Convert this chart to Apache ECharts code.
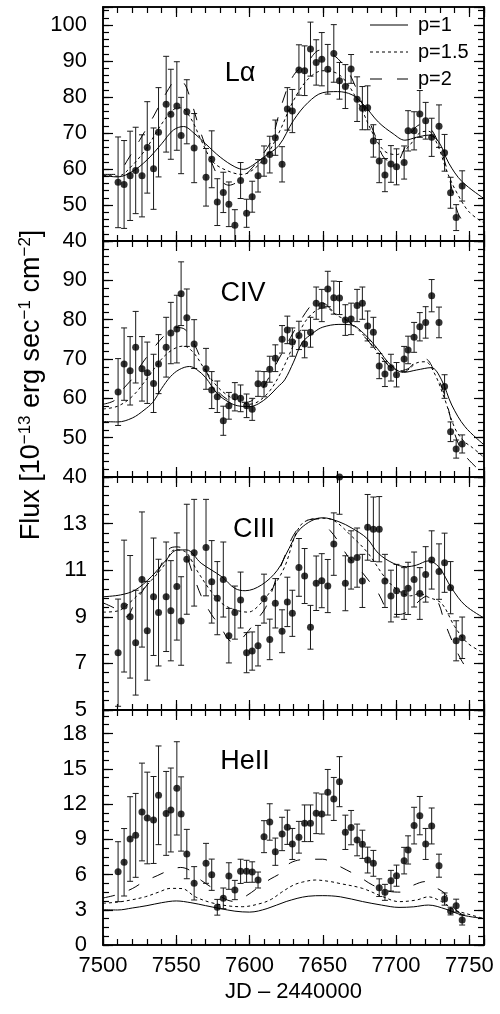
<!DOCTYPE html>
<html><head><meta charset="utf-8">
<script src="https://cdn.jsdelivr.net/npm/echarts@6/dist/echarts.min.js"></script>
<style>html,body{margin:0;padding:0;background:#fff}#c{width:500px;height:1014px}</style>
</head><body><div id="c"></div>
<script>
// ---------- data ----------
const jd = [7510.3,7514.4,7518.5,7522.3,7526.6,7530.2,7534.5,7537.9,7543.1,7546.3,7550.4,7553.3,7557.2,7562.2,7570.3,7574.2,7578.0,7582.1,7585.9,7590.0,7593.9,7598.0,7601.8,7605.8,7609.9,7613.8,7617.6,7622.2,7625.8,
7629.2,7633.7,7637.6,7641.6,7645.5,7649.3,7653.4,7657.5,7661.4,7665.4,7669.3,7673.4,7677.0,7680.6,7684.5,7688.5,7692.4,7696.5,7700.3,7705.5,7708.2,7712.3,7716.2,7720.2,7724.3,7729.3,7733.1,7737.2,7741.0,7745.1];

const lyaFlux = [56.3,55.7,58.1,59.6,58.1,66.0,60.1,70.2,78.0,75.2,77.5,69.3,75.9,65.8,57.7,62.7,50.8,53.5,50.2,44.4,56.8,47.7,52.3,58.1,62.2,64.0,68.7,61.3,76.7,
76.1,87.5,87.3,93.3,89.6,90.5,87.7,92.1,84.5,82.9,87.8,79.4,76.9,77.0,67.8,62.2,58.3,61.4,60.6,61.8,70.6,70.6,75.3,73.4,68.8,71.9,64.5,53.4,46.5,55.3];
const lyaErr = [12.6,12.2,12.4,12.0,11.4,12.7,11.3,12.4,13.3,12.5,12.3,10.6,8.9,9.6,8.0,7.9,6.5,5.6,6.2,4.3,5.0,3.9,4.3,4.5,4.2,5.1,4.9,4.9,5.9,
6.0,7.0,6.9,7.5,6.3,7.4,6.9,8.0,5.1,6.1,4.0,6.2,6.0,6.1,4.5,6.0,4.6,5.1,5.0,4.6,5.6,5.3,6.5,5.1,5.3,5.9,5.1,4.3,3.6,4.2];

const civFlux = [61.6,68.7,67.0,73.0,67.5,66.5,63.8,68.7,73.0,76.6,77.6,86.6,80.5,73.8,67.5,62.1,60.4,54.3,58.1,60.4,60.0,58.1,57.2,63.7,63.6,67.4,70.2,75.0,77.4,
74.3,76.0,73.8,76.8,84.2,83.6,87.8,85.6,85.5,79.9,80.2,83.6,84.2,78.4,76.8,68.2,66.2,67.8,66.0,70.0,72.3,75.5,78.2,79.3,86.1,79.3,63.0,51.5,47.1,48.4];
const civErr = [8.5,9.2,8.7,9.1,8.2,7.8,7.4,7.5,7.6,7.8,8.6,8.1,7.3,6.2,5.2,4.7,4.0,3.7,3.4,3.6,3.4,3.0,2.8,3.2,3.2,3.3,3.4,3.5,3.5,
3.6,3.6,3.5,3.8,4.1,4.1,4.5,4.2,4.2,3.9,4.0,4.1,4.1,3.8,3.8,3.2,3.2,3.4,3.1,3.2,3.5,3.8,3.6,4.0,4.1,3.9,3.0,2.5,2.3,2.3];

const ciiiFlux = [7.46,9.46,9.0,7.89,10.6,8.4,9.86,9.18,9.86,9.26,10.3,8.82,11.47,11.75,11.97,10.5,9.8,10.6,8.19,9.18,9.72,7.46,7.53,7.76,9.78,8.03,9.58,8.38,9.64,
9.15,11.12,10.75,8.55,10.44,10.55,10.32,12.12,15.0,10.44,11.44,11.54,10.54,12.84,12.76,12.76,10.54,9.89,10.12,10.0,10.22,10.6,10.0,10.82,11.44,10.94,11.32,10.25,7.97,8.1];
const ciiiErr = [2.3,2.83,2.63,2.25,2.9,2.12,2.52,2.29,2.35,2.15,2.3,1.9,2.36,2.29,2.07,1.77,1.57,1.61,1.17,1.14,1.2,0.86,0.82,0.87,1.05,0.87,1.06,0.92,1.06,
0.99,1.24,1.18,0.94,1.17,1.16,1.14,1.34,1.6,1.18,1.25,1.27,1.14,1.41,1.38,1.4,1.14,1.11,1.13,1.11,1.12,1.18,1.11,1.19,1.25,1.19,1.27,1.12,0.86,0.89];

const heiiFlux = [6.24,7.04,9.02,9.33,11.32,10.81,10.64,12.74,11.2,11.49,13.33,11.15,7.74,5.25,6.95,5.98,3.21,3.97,5.87,4.68,6.27,6.27,6.21,5.53,9.22,10.47,7.94,9.45,10.02,
8.6,9.17,10.36,10.36,11.21,11.15,13.0,12.43,13.9,9.59,9.99,8.94,8.57,7.23,6.95,4.88,4.48,5.47,5.9,7.18,8.09,10.16,11.01,8.6,10.13,6.75,3.91,2.89,3.35,2.13];
const heiiErr = [2.55,2.87,3.6,3.57,4.16,3.9,3.7,4.2,3.57,3.57,3.97,3.16,2.1,1.42,1.7,1.33,0.67,0.88,1.13,0.82,1.03,0.94,0.87,0.68,1.36,1.55,1.16,1.42,1.46,
1.32,1.35,1.56,1.56,1.73,1.7,1.94,1.83,2.13,1.46,1.46,1.35,1.2,1.1,1.1,0.75,0.68,0.88,0.9,1.13,1.2,1.56,1.63,1.32,1.53,0.98,0.52,0.33,0.55,0.43];

// model curves [JD, flux]
const lyaP1 = [[7500,58.2],[7510,57.8],[7520,59.3],[7530,62.5],[7540,67],[7548,70.8],[7555,71.8],[7562,70],[7570,67],[7580,63.3],[7590,60.6],[7596,59.9],[7602,61],[7610,63.4],[7620,66.5],[7630,73.5],[7640,78.5],[7650,81.2],[7660,81.5],[7670,80.6],[7678,77.8],[7688,73],[7698,69.8],[7706,68],[7714,68.8],[7722,69.4],[7729,67.6],[7736,61.6],[7745,56.5],[7760,51.8]];
const lyaP15 = [[7500,58.3],[7510,58],[7520,61],[7530,66],[7540,72.5],[7548,76.5],[7553,77],[7560,74],[7567,68],[7575,62],[7585,59.5],[7595,58.5],[7603,60],[7612,64],[7620,70],[7630,79],[7640,85],[7650,87.3],[7660,86.5],[7668,83],[7676,77],[7684,70],[7692,65],[7700,64],[7708,66],[7716,70],[7722,70.5],[7728,67],[7735,59],[7742,53],[7750,48],[7760,45]];
const lyaP2 = [[7500,58.5],[7510,58.5],[7516,62],[7525,68],[7535,75],[7543,81],[7550,84.5],[7555,84],[7560,79],[7566,71],[7573,63],[7580,57],[7586,55.5],[7592,56.5],[7600,59.5],[7608,63.5],[7615,68],[7622,78],[7630,86],[7640,90],[7648,93],[7656,92],[7664,89],[7670,85],[7678,77],[7686,69],[7692,63],[7700,62],[7706,66],[7712,71],[7718,72.5],[7724,71],[7730,66],[7736,58],[7742,48],[7748,44]];

const civP1 = [[7500,54.1],[7510,54.0],[7520,55.0],[7528,57],[7534,59],[7540,62.5],[7546,65.5],[7552,67.3],[7559,68.1],[7564,67.3],[7570,65.3],[7578,61.2],[7586,59],[7592,58.1],[7600,57.9],[7606,58.6],[7613,60.5],[7619,62.8],[7624,64.7],[7630,69.2],[7636,74.2],[7644,76.8],[7650,78.1],[7661,78.8],[7669,78.7],[7679,76.1],[7688,72.3],[7696,68.6],[7705,66.6],[7714,67.2],[7724,67.8],[7731,64.7],[7738,58.3],[7747,52.8],[7760,48.2]];
const civP15 = [[7500,57.3],[7510,58],[7520,60.5],[7530,65],[7540,70],[7548,72.5],[7555,73.3],[7562,71.5],[7570,67],[7578,63],[7586,60.5],[7594,59],[7600,58.5],[7606,59.2],[7614,62],[7622,67],[7630,73.5],[7638,79.5],[7646,82.5],[7652,83],[7660,81],[7668,79.5],[7678,76],[7688,71.5],[7698,67.5],[7706,67],[7714,69],[7720,69.3],[7726,66.5],[7733,60],[7740,52.5],[7746,49.2],[7752,47.5],[7760,45]];
const civP2 = [[7500,58.5],[7508,59.5],[7514,62.5],[7520,65],[7526,68.5],[7534,72.5],[7542,76],[7550,78],[7556,77.5],[7562,74],[7568,69],[7575,63.5],[7582,60.5],[7590,59],[7598,59],[7605,60.5],[7612,64.5],[7620,70],[7628,75.5],[7636,80.5],[7644,84],[7650,84.2],[7656,82.5],[7664,80.5],[7672,78],[7680,75],[7690,70.5],[7700,67],[7708,67.5],[7714,69.5],[7720,70],[7726,67],[7733,61],[7740,51],[7746,46],[7756,42]];

const ciiiP1 = [[7500,9.86],[7512,9.94],[7522,10.15],[7533,10.72],[7542,11.36],[7551,11.87],[7557,11.87],[7567,11.3],[7581,10.72],[7590,10.22],[7597,10.12],[7608,10.36],[7619,11.0],[7627,11.94],[7635,12.8],[7650,13.25],[7661,13.08],[7670,12.8],[7680,12.37],[7688,11.72],[7698,11.3],[7707,11.15],[7714,11.22],[7722,11.4],[7729,11.15],[7738,10.22],[7747,9.5],[7760,8.95]];
const ciiiP15 = [[7500,9.2],[7510,9.25],[7519,9.65],[7530,10.36],[7541,11.15],[7549,11.87],[7556,11.8],[7564,11.0],[7573,10.15],[7581,9.58],[7590,9.3],[7599,9.2],[7608,9.6],[7617,10.36],[7624,11.15],[7635,12.94],[7649,13.23],[7657,13.15],[7670,12.44],[7681,11.72],[7692,10.72],[7700,10.2],[7710,9.9],[7716,10.0],[7722,9.84],[7731,9.58],[7740,8.58],[7749,7.86],[7760,7.45]];
const ciiiP2 = [[7500,9.6],[7510,9.3],[7516,9.0],[7521,9.5],[7528,10.2],[7537,10.9],[7545,11.9],[7550,12.0],[7555,11.9],[7561,10.9],[7567,9.9],[7574,9.1],[7580,8.6],[7586,8.0],[7591,7.9],[7598,8.3],[7604,8.8],[7611,9.4],[7618,10.6],[7624,11.6],[7630,12.5],[7638,13.1],[7647,13.2],[7655,12.7],[7661,12.2],[7667,11.6],[7673,11.2],[7682,10.5],[7688,10.0],[7695,9.2],[7702,9.1],[7710,9.3],[7716,9.7],[7722,9.9],[7728,9.7],[7733,8.8],[7738,8.0],[7744,7.2],[7750,6.6]];

const heiiP1 = [[7500,3.0],[7510,2.98],[7520,3.15],[7530,3.35],[7540,3.6],[7550,3.75],[7560,3.6],[7570,3.35],[7580,3.1],[7590,2.88],[7600,2.8],[7612,3.1],[7625,3.7],[7640,4.15],[7650,4.2],[7662,4.1],[7677,3.7],[7690,3.4],[7702,3.2],[7712,3.25],[7722,3.4],[7734,3.05],[7745,2.55],[7760,2.25]];
const heiiP15 = [[7500,3.55],[7510,3.65],[7519,3.83],[7529,4.11],[7538,4.5],[7546,4.82],[7554,4.8],[7563,4.1],[7574,3.6],[7586,3.32],[7595,3.26],[7608,3.55],[7615,3.9],[7622,4.5],[7630,5.1],[7636,5.35],[7645,5.53],[7655,5.4],[7661,5.25],[7677,4.82],[7691,4.11],[7702,3.69],[7714,3.83],[7722,4.1],[7731,3.69],[7740,2.98],[7747,2.7],[7760,2.25]];
const heiiP2 = [[7500,4.0],[7510,4.3],[7520,4.8],[7528,5.4],[7537,5.9],[7546,6.4],[7553,6.6],[7560,6.3],[7567,5.5],[7574,4.9],[7582,4.0],[7590,3.7],[7598,4.2],[7606,4.9],[7614,5.6],[7621,6.1],[7628,7.0],[7640,7.3],[7650,7.3],[7658,6.9],[7666,6.4],[7675,5.8],[7684,5.1],[7694,4.6],[7703,4.5],[7712,5.1],[7720,5.4],[7727,4.9],[7734,4.3],[7739,3.2],[7745,2.6],[7750,2.4]];

// tick labels
const xTickLabels = [7500,7550,7600,7650,7700,7750];
const lyaTicks = [40,50,60,70,80,90,100];
const civTicks = [40,50,60,70,80,90];
const ciiiTicks = [5,7,9,11,13];
const heiiTicks = [0,3,6,9,12,15,18];
const lineNames = ['p=1','p=1.5','p=2'];
const panelNames = ['Lα','CIV','CIII','HeII'];

const panels = [
  {flux:lyaFlux, err:lyaErr, curves:[lyaP1,lyaP15,lyaP2], min:40, max:105, major:10, minor:2, ticks:lyaTicks},
  {flux:civFlux, err:civErr, curves:[civP1,civP15,civP2], min:40, max:100, major:10, minor:2, ticks:civTicks},
  {flux:ciiiFlux, err:ciiiErr, curves:[ciiiP1,ciiiP15,ciiiP2], min:5, max:15, major:2, minor:0.4, ticks:ciiiTicks},
  {flux:heiiFlux, err:heiiErr, curves:[heiiP1,heiiP15,heiiP2], min:0, max:20, major:3, minor:0.75, ticks:heiiTicks}
];

// ---------- layout / style ----------
const FONT = "'Liberation Sans', Arial, Helvetica, sans-serif";
const tops = [7, 241, 477, 710];
const heights = [234, 236, 233, 235];
const labelPos = [[240,74],[243,294],[254,530],[245,762]];
const dashes = ['solid', [3,3], [12,15]];

const grids = [], xAxes = [], yAxes = [], series = [];
const axLine = {show:true, onZero:false, lineStyle:{color:'#000', width:1.5}};
const tickStyle = {color:'#000', width:1.2};

panels.forEach((p, i) => {
  grids.push({left:103, right:16, top:tops[i], height:heights[i], show:false});
  const last = i === 3;
  const xb = {type:'value', gridIndex:i, min:7500, max:7760, splitLine:{show:false}, axisLine:axLine};
  xAxes.push(Object.assign({}, xb, {position:'bottom', interval:50,
    axisTick:{show:true, inside:true, length:10, lineStyle:tickStyle},
    axisLabel: last ? {show:true, margin:10, fontSize:22, fontFamily:FONT, color:'#000',
      formatter: v => xTickLabels.includes(v) ? String(v) : ''} : {show:false},
    name: last ? 'JD – 2440000' : '', nameLocation:'middle', nameGap:36,
    nameTextStyle:{fontSize:22, fontFamily:FONT, color:'#000'}}));
  xAxes.push(Object.assign({}, xb, {position:'bottom', interval:10,
    axisTick:{show:true, inside:true, length:6, lineStyle:tickStyle}, axisLabel:{show:false}}));
  xAxes.push(Object.assign({}, xb, {position:'top', interval:50,
    axisTick:{show:true, inside:true, length:10, lineStyle:tickStyle}, axisLabel:{show:false}}));
  xAxes.push(Object.assign({}, xb, {position:'top', interval:10,
    axisTick:{show:true, inside:true, length:6, lineStyle:tickStyle}, axisLabel:{show:false}}));

  const yb = {type:'value', gridIndex:i, min:p.min, max:p.max, splitLine:{show:false}, axisLine:axLine};
  yAxes.push(Object.assign({}, yb, {position:'left', interval:p.major,
    axisTick:{show:true, inside:true, length:10, lineStyle:tickStyle},
    axisLabel:{show:true, margin:16, fontSize:22, fontFamily:FONT, color:'#000',
      formatter: v => p.ticks.some(t => Math.abs(t - v) < 1e-6) ? String(v) : ''}}));
  yAxes.push(Object.assign({}, yb, {position:'left', interval:p.minor,
    axisTick:{show:true, inside:true, length:6, lineStyle:tickStyle}, axisLabel:{show:false}}));
  yAxes.push(Object.assign({}, yb, {position:'right', interval:p.major,
    axisTick:{show:true, inside:true, length:10, lineStyle:tickStyle}, axisLabel:{show:false}}));
  yAxes.push(Object.assign({}, yb, {position:'right', interval:p.minor,
    axisTick:{show:true, inside:true, length:6, lineStyle:tickStyle}, axisLabel:{show:false}}));

  const xi = i * 4, yi = i * 4;
  // error bars
  series.push({
    type:'custom', name:'err', xAxisIndex:xi, yAxisIndex:yi, z:2,
    encode:{x:0, y:1},
    data: jd.map((x, k) => [x, p.flux[k], p.err[k]]),
    renderItem: (params, api) => {
      const x = api.value(0), y = api.value(1), e = api.value(2);
      const hiV = Math.min(y + e, p.max), loV = Math.max(y - e, p.min);
      const a = api.coord([x, hiV]), b = api.coord([x, loV]);
      const st = {stroke:'#1a1a1a', lineWidth:1};
      const ch = [{type:'line', shape:{x1:a[0], y1:a[1], x2:b[0], y2:b[1]}, style:st}];
      if (y + e <= p.max) ch.push({type:'line', shape:{x1:a[0]-3, y1:a[1], x2:a[0]+3, y2:a[1]}, style:st});
      if (y - e >= p.min) ch.push({type:'line', shape:{x1:b[0]-3, y1:b[1], x2:b[0]+3, y2:b[1]}, style:st});
      return {type:'group', children:ch};
    }
  });
  // model curves
  p.curves.forEach((c, k) => {
    series.push({
      type:'line', name:lineNames[k], xAxisIndex:xi, yAxisIndex:yi, z:3,
      data:c, smooth:0.35, symbol:'none', showSymbol:false, silent:true,
      lineStyle:{color:'#000', width:1, type:dashes[k]}, itemStyle:{color:'#000'}
    });
  });
  // observed points
  series.push({
    type:'scatter', name:'obs', xAxisIndex:xi, yAxisIndex:yi, z:4, clip:false,
    data: jd.map((x, k) => [x, p.flux[k]]),
    symbol:'circle', symbolSize:7, itemStyle:{color:'#000'}
  });
});

const graphics = panelNames.map((t, i) => ({
  type:'text', x:labelPos[i][0], y:labelPos[i][1], z:10,
  style:{text:t, fontSize:27, fontFamily:FONT, fill:'#000', align:'center', verticalAlign:'middle'}
}));
// legend (key) drawn as graphic: sample lines + labels
const legendRows = [25, 52, 79];
lineNames.forEach((n, k) => {
  graphics.push({type:'line', z:10, shape:{x1:370, y1:legendRows[k], x2:408, y2:legendRows[k]},
    style:{stroke:'#000', lineWidth:1, lineDash: k === 0 ? null : dashes[k]}});
  graphics.push({type:'text', z:10, x:418, y:legendRows[k],
    style:{text:n, fontSize:20, fontFamily:FONT, fill:'#000', align:'left', verticalAlign:'middle'}});
});
graphics.push({
  type:'text', x:32, y:385, rotation:Math.PI/2, z:10,
  style:{
    text:'{a|Flux [10}{s|−13}{a| erg sec}{s|−1}{a| cm}{s|−2}{a|]}',
    align:'center', verticalAlign:'middle',
    rich:{
      a:{fontSize:27, fontFamily:FONT, fill:'#000', lineHeight:30},
      s:{fontSize:17, fontFamily:FONT, fill:'#000', verticalAlign:'top', lineHeight:17}
    }
  }
});

const chart = echarts.init(document.getElementById('c'), null, {renderer:'canvas'});
chart.setOption({
  animation:false,
  backgroundColor:'#fff',
  grid:grids, xAxis:xAxes, yAxis:yAxes, series:series,
  graphic:graphics
});
</script>
</body></html>
